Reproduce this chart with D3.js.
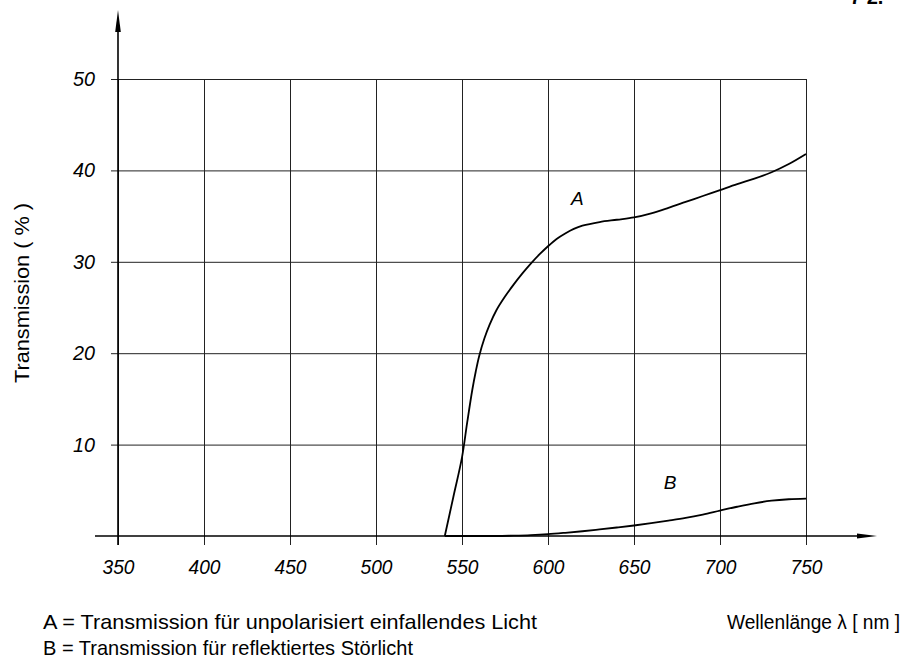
<!DOCTYPE html>
<html><head><meta charset="utf-8">
<script src="https://cdn.jsdelivr.net/npm/d3@7"></script>
<style>html,body{margin:0;padding:0;background:#fff;}svg{display:block;}</style>
</head><body>
<svg id="c" width="907" height="661"></svg>
<script>
const xTicks = [350,400,450,500,550,600,650,700,750];
const yTicks = [10,20,30,40,50];
const wavelengthA = [540,545,550,553,556,558,560,563,566,570,575,580,585,590,595,600,605,610,615,620,630,640,650,660,670,680,690,700,710,720,730,740,750];
const transA      = [0,4.3,8.6,12.4,16,18,19.7,21.6,23.1,24.7,26.2,27.5,28.7,29.8,30.8,31.7,32.5,33.1,33.6,33.95,34.35,34.6,34.85,35.3,35.9,36.55,37.2,37.85,38.5,39.1,39.8,40.7,41.8];
const wavelengthB = [540,560,570,580,590,600,610,620,630,640,650,660,670,680,690,700,710,720,730,740,750];
const transB      = [0,0,0,0.04,0.1,0.2,0.35,0.52,0.72,0.93,1.15,1.4,1.68,1.98,2.35,2.78,3.2,3.58,3.86,4.02,4.1];
const labelA = "A", labelB = "B";
const yTitle = "Transmission ( % )";
const xTitle = "Wellenlänge λ [ nm ]";
const legend = ["A = Transmission für unpolarisiert einfallendes Licht", "B = Transmission für reflektiertes Störlicht"];

const svg = d3.select("#c");
const x = d3.scaleLinear().domain([350,750]).range([118,806]);
const y = d3.scaleLinear().domain([0,50]).range([536,79]);
const tickFont = "'Liberation Sans', Arial, sans-serif";

// vertical grid + x labels
const gx = svg.append("g").attr("transform","translate(0,545)")
  .call(d3.axisBottom(x).tickValues(xTicks).tickSize(-(545-79)).tickSizeOuter(0).tickPadding(15).tickFormat(d3.format("d")));
gx.select(".domain").remove();
gx.selectAll(".tick line").attr("stroke","#222").attr("stroke-width",1);
gx.selectAll(".tick text").attr("font-family",tickFont).attr("font-style","italic").attr("font-size",20).attr("fill","#000")
  .attr("textLength",32).attr("lengthAdjust","spacingAndGlyphs");

// horizontal grid + y labels
const gy = svg.append("g").attr("transform","translate(111,0)")
  .call(d3.axisLeft(y).tickValues(yTicks).tickSize(-(806-111)).tickSizeOuter(0).tickPadding(16).tickFormat(d3.format("d")));
gy.select(".domain").remove();
gy.selectAll(".tick line").attr("stroke","#222").attr("stroke-width",1);
gy.selectAll(".tick text").attr("font-family",tickFont).attr("font-style","italic").attr("font-size",20).attr("fill","#000")
  .attr("textLength",22).attr("lengthAdjust","spacingAndGlyphs");

// axes with arrows
svg.append("line").attr("x1",x(350)).attr("x2",x(350)).attr("y1",545).attr("y2",28).attr("stroke","#000").attr("stroke-width",1.6);
svg.append("path").attr("d",`M${x(350)},10 L${x(350)-2.8},32 L${x(350)+2.8},32 Z`).attr("fill","#000");
svg.append("line").attr("x1",95).attr("x2",862).attr("y1",y(0)).attr("y2",y(0)).attr("stroke","#000").attr("stroke-width",1.6);
svg.append("path").attr("d",`M877,${y(0)} L857,${y(0)-2.6} L857,${y(0)+2.6} Z`).attr("fill","#000");

// curves
const line = d3.line().x(d=>x(d[0])).y(d=>y(d[1])).curve(d3.curveCatmullRom.alpha(0.5));
svg.append("path").datum(wavelengthA.map((w,i)=>[w,transA[i]])).attr("d",line)
  .attr("fill","none").attr("stroke","#000").attr("stroke-width",1.8);
svg.append("path").datum(wavelengthB.map((w,i)=>[w,transB[i]])).attr("d",line.curve(d3.curveMonotoneX))
  .attr("fill","none").attr("stroke","#000").attr("stroke-width",1.8);

// curve labels
svg.append("text").attr("x",x(617)).attr("y",y(36.2)).attr("text-anchor","middle")
  .attr("font-family",tickFont).attr("font-style","italic").attr("font-size",19).text(labelA);
svg.append("text").attr("x",x(671)).attr("y",y(5.1)).attr("text-anchor","middle")
  .attr("font-family",tickFont).attr("font-style","italic").attr("font-size",19).text(labelB);

// y title
svg.append("text").attr("transform","translate(29,293) rotate(-90)").attr("text-anchor","middle")
  .attr("font-family",tickFont).attr("font-size",20).attr("textLength",180).attr("lengthAdjust","spacingAndGlyphs").text(yTitle);

// bottom texts
svg.append("text").attr("x",43).attr("y",629).attr("font-family",tickFont).attr("font-size",21)
  .attr("textLength",494).attr("lengthAdjust","spacingAndGlyphs").text(legend[0]);
svg.append("text").attr("x",43).attr("y",655).attr("font-family",tickFont).attr("font-size",21)
  .attr("textLength",370).attr("lengthAdjust","spacingAndGlyphs").text(legend[1]);
svg.append("text").attr("x",727).attr("y",629).attr("font-family",tickFont).attr("font-size",20)
  .attr("textLength",173).attr("lengthAdjust","spacingAndGlyphs").text(xTitle);

// cut-off page marker at top right
svg.append("text").attr("x",850).attr("y",4).attr("font-family",tickFont).attr("font-weight","bold").attr("font-size",20).text("7 2.");
</script>
</body></html>
